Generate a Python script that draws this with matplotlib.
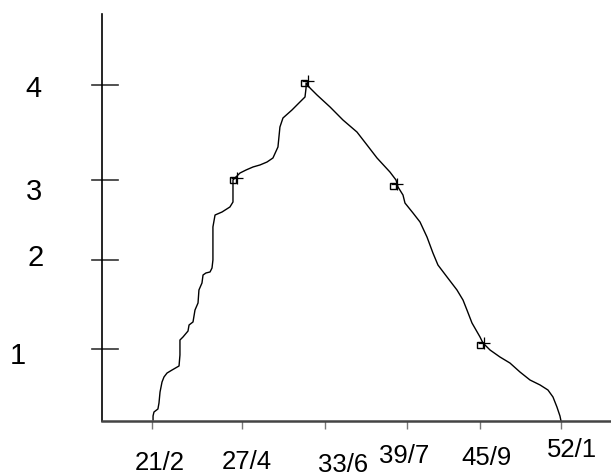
import matplotlib.pyplot as plt
from matplotlib.transforms import offset_copy

# x in weeks (tick labels are week/month), y in level units
x_vals = [21.08, 21.08, 21.15, 21.45, 21.53, 21.61, 21.76, 21.91, 22.14, 22.52,
          23.05, 23.12, 23.12, 23.35, 23.73, 23.81, 24.11, 24.26, 24.49, 24.56,
          24.79, 24.87, 25.09, 25.40, 25.55, 25.62, 25.62, 25.78, 26.31, 26.91,
          27.14, 27.14, 27.29, 27.67, 28.13, 28.66, 29.19, 29.72, 30.17, 30.55,
          30.70, 30.93, 31.61, 32.22, 32.60, 32.68, 32.68, 32.98, 33.51, 34.50,
          35.48, 36.54, 37.30, 38.06, 39.04, 39.50, 39.65, 40.03, 40.18, 40.79,
          41.32, 41.85, 42.30, 42.68, 43.37, 44.12, 44.58, 44.88, 45.26, 45.87,
          46.09, 46.63, 47.38, 48.14, 48.90, 49.66, 50.42, 51.02, 51.40, 51.70,
          51.93, 52.01]
y_vals = [0.012, 0.060, 0.107, 0.143, 0.214, 0.345, 0.464, 0.524, 0.571, 0.607,
          0.655, 0.786, 0.964, 1.000, 1.071, 1.143, 1.179, 1.321, 1.405, 1.560,
          1.643, 1.738, 1.762, 1.774, 1.821, 1.917, 2.310, 2.452, 2.488, 2.548,
          2.607, 2.869, 2.893, 2.952, 2.988, 3.024, 3.048, 3.083, 3.131, 3.262,
          3.500, 3.607, 3.702, 3.798, 3.857, 3.964, 4.024, 3.964, 3.881, 3.738,
          3.583, 3.440, 3.286, 3.131, 2.964, 2.869, 2.786, 2.690, 2.595, 2.476,
          2.369, 2.190, 2.000, 1.857, 1.714, 1.560, 1.440, 1.321, 1.167, 1.000,
          0.929, 0.845, 0.762, 0.690, 0.583, 0.488, 0.429, 0.369, 0.286, 0.167,
          0.060, 0.000]

# marked points on the curve
mark_x = [27.29, 32.68, 39.42, 46.02]
mark_y = [2.881, 4.036, 2.810, 0.917]

x_ticks = [21.0, 27.82, 34.12, 40.33, 45.87, 52.0]
x_labels = ["21/2", "27/4", "33/6", "39/7", "45/9", "52/1"]
y_ticks = [4.0, 2.87, 1.917, 0.857]
y_labels = ["4", "3", "2", "1"]

W, H = 611, 476
fig = plt.figure(figsize=(W / 100, H / 100), dpi=100)
ax = fig.add_axes([102 / W, 55 / H, (W - 102) / W, (421 - 14) / H])
ax.set_xlim(17.21, 55.8)
ax.set_ylim(0, 4.845)

ax.plot(x_vals, y_vals, color="black", lw=1.0)
# hand-drawn style marks: small open box with a cross just off to the right
ax.plot(mark_x, mark_y, ls="none", marker="s", ms=5, mfc="none",
        mec="black", mew=1.0,
        transform=offset_copy(ax.transData, fig=fig, x=-1.5, y=-1, units="points"))
ax.plot(mark_x, mark_y, ls="none", marker="+", ms=9, mec="black", mew=0.9,
        transform=offset_copy(ax.transData, fig=fig, x=1.5, y=1, units="points"))

for s in ["top", "right"]:
    ax.spines[s].set_visible(False)
ax.spines["left"].set_color("black")
ax.spines["left"].set_linewidth(1.2)
ax.spines["bottom"].set_color("#444444")
ax.spines["bottom"].set_linewidth(1.8)

ax.set_xticks(x_ticks)
ax.set_xticklabels([])
ax.tick_params(axis="x", direction="out", length=6, width=1.0, color="#777777")
ax.set_yticks([])

# y ticks cross the axis, longer on the inside
ytr = ax.get_yaxis_transform()
for yt in y_ticks:
    ax.plot([-0.019, 0.031], [yt, yt], color="#333333", lw=1.2,
            transform=ytr, clip_on=False)

# labels sit a little off their ticks, as in the original sketch
fnt = ["Liberation Sans", "DejaVu Sans"]
y_lab_pos = [(33, 89), (34, 192), (36, 258), (18, 356)]
for lab, (px, py) in zip(y_labels, y_lab_pos):
    fig.text(px / W, 1 - py / H, lab, fontsize=21, family=fnt,
             ha="center", va="center")
x_lab_pos = [(160, 463), (247, 462), (343, 465), (404, 456), (486, 458), (572, 450)]
for lab, (px, py) in zip(x_labels, x_lab_pos):
    fig.text(px / W, 1 - py / H, lab, fontsize=18.5, family=fnt,
             ha="center", va="center")

fig.savefig("out.png", dpi=100, facecolor="white")
